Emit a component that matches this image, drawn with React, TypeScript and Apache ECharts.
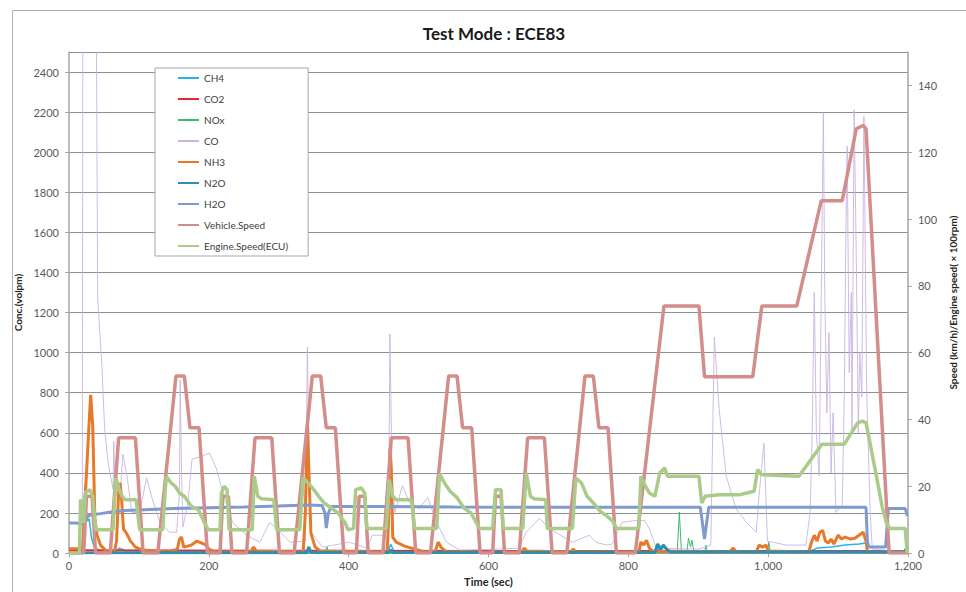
import React, { useEffect, useRef } from "react";
import * as echarts from "echarts";

// ---- Data: [time (sec), value] ----
const ch4: number[][] = [[0,8],[18,8],[21,150],[23,340],[25,200],[27,160],[29,170],[32,80],[36,30],[45,10],[68,10],[72,25],[76,20],[80,10],[340,8],[343,30],[346,10],[457,10],[460,45],[464,15],[470,8],[840,8],[845,25],[850,10],[1060,10],[1070,25],[1090,30],[1110,40],[1130,45],[1140,50],[1142,8],[1200,8]];
const co2: number[][] = [[0,14],[20,15],[300,13],[700,12],[1200,12]];
const nox: number[][] = [[0,1],[365,1],[369,30],[372,2],[870,2],[873,205],[876,5],[884,10],[886,74],[889,30],[891,64],[894,5],[909,5],[911,40],[913,5],[999,5],[1001,54],[1003,5],[1200,2]];
const co: number[][] = [[0,0],[19,0],[20,3500],[38,3500],[41,1274],[47,943],[51,617],[56,450],[63,320],[64,558],[66,300],[69,286],[73,286],[77,494],[83,385],[90,203],[101,203],[111,375],[119,272],[130,153],[144,104],[154,104],[158,300],[159,864],[161,400],[163,130],[170,250],[176,469],[187,480],[201,499],[211,420],[220,301],[234,153],[254,89],[273,54],[287,153],[297,123],[316,54],[338,60],[341,1027],[344,300],[347,100],[363,30],[401,54],[426,25],[434,89],[449,89],[457,120],[459,1093],[462,400],[466,203],[477,336],[487,253],[501,222],[513,277],[526,153],[540,54],[559,15],[616,20],[644,25],[654,104],[673,173],[687,123],[720,54],[744,89],[754,54],[769,40],[777,45],[791,153],[811,163],[823,163],[830,123],[840,25],[901,20],[918,40],[923,1077],[930,716],[940,385],[954,222],[969,153],[983,104],[987,286],[994,548],[999,60],[1026,40],[1054,40],[1060,200],[1063,598],[1066,1300],[1069,600],[1073,385],[1079,2197],[1081,1300],[1084,700],[1087,1100],[1090,400],[1093,700],[1097,203],[1106,237],[1109,800],[1111,1536],[1113,2030],[1116,900],[1119,1300],[1120,600],[1123,2212],[1126,1500],[1129,600],[1131,1000],[1134,780],[1137,2178],[1141,800],[1146,200],[1149,20],[1200,5]];
const nh3: number[][] = [[0,22],[17,22],[20,40],[24,330],[28,600],[31,790],[34,630],[37,170],[40,90],[45,40],[55,5],[65,5],[68,60],[71,300],[73,350],[75,280],[78,120],[82,100],[88,60],[95,30],[105,15],[140,5],[155,20],[158,70],[161,80],[164,30],[175,40],[183,60],[190,50],[196,40],[200,20],[210,5],[260,5],[264,30],[268,10],[335,5],[338,200],[341,650],[343,420],[346,100],[352,30],[360,10],[455,5],[457,150],[459,520],[461,420],[463,80],[468,55],[480,35],[495,20],[510,5],[524,10],[528,55],[532,30],[540,5],[648,5],[651,25],[655,10],[718,5],[721,20],[725,5],[815,5],[818,55],[822,40],[826,64],[830,25],[835,10],[945,5],[950,25],[954,8],[983,5],[987,40],[992,30],[997,40],[1000,10],[1058,5],[1062,54],[1066,89],[1070,60],[1074,104],[1078,113],[1082,60],[1086,50],[1090,70],[1094,45],[1100,90],[1105,70],[1110,80],[1118,70],[1124,74],[1130,89],[1136,104],[1140,60],[1142,5],[1200,5]];
const n2o: number[][] = [[0,2],[340,2],[343,30],[346,3],[457,3],[460,15],[463,3],[838,3],[842,45],[846,20],[850,40],[856,15],[862,5],[1195,5],[1198,25],[1200,20]];
const h2o: number[][] = [[0,150],[10,150],[19,145],[22,170],[30,190],[45,197],[60,205],[80,212],[100,215],[150,222],[200,226],[250,230],[300,235],[340,240],[362,238],[366,200],[368,125],[371,200],[375,232],[450,233],[550,230],[650,229],[750,229],[850,229],[903,229],[906,150],[909,70],[912,150],[915,229],[1000,229],[1100,229],[1140,229],[1142,60],[1144,30],[1168,30],[1172,222],[1196,222],[1199,190],[1200,188]];
const vehicleSpeed: number[][] = [[0,0],[21,0],[25,17],[33,17],[38,0],[59,0],[71,34.5],[95,34.5],[106,0],[127,0],[153,53],[165,53],[173,37.5],[186,37.5],[198,0],[216,0],[220,17],[228,17],[233,0],[254,0],[266,34.5],[290,34.5],[301,0],[322,0],[348,53],[360,53],[368,37.5],[381,37.5],[393,0],[411,0],[415,17],[423,17],[428,0],[449,0],[461,34.5],[485,34.5],[496,0],[517,0],[543,53],[555,53],[563,37.5],[576,37.5],[588,0],[606,0],[610,17],[618,17],[623,0],[644,0],[656,34.5],[680,34.5],[691,0],[712,0],[738,53],[750,53],[758,37.5],[771,37.5],[783,0],[810,0],[851,74],[901,74],[909,52.8],[978,52.8],[991,74],[1041,74],[1076,105.5],[1106,105.5],[1126,127],[1136,128],[1140,127],[1173,0],[1200,0]];
const engineSpeed: number[][] = [[0,0],[15,0],[16.5,16],[19,15],[21,9],[23,18],[30,19],[34,17],[38,7],[63,7],[67,22.5],[72,19],[76,17],[80,16],[96,16],[101,7],[134,7],[139,23],[146,21],[152,20],[158,18],[165,17],[175,14],[185,13],[194,9],[199,7],[216,7],[218,18],[222,20],[226,19],[229,7],[262,7],[265,23],[270,17],[275,16.3],[293,16],[297,7],[330,7],[335,22.5],[342,21],[350,19],[357,17],[365,15],[375,13.5],[385,12],[395,9],[399,7],[407,7.4],[410,19],[418,19.5],[423,18],[426,7.4],[454,7.4],[458,22],[463,17],[468,16],[490,16],[494,7.4],[526,7.4],[530,23.7],[537,21],[545,18.5],[555,16.6],[565,13.5],[575,12],[583,9],[587,7.4],[606,7.4],[610,19],[618,19],[621,7.4],[649,7.4],[654,24],[660,17],[665,16.3],[682,16],[684,7.4],[720,7.4],[725,22.5],[733,21],[741,17],[750,15],[760,12.5],[770,11],[778,9.5],[783,7.4],[815,7.4],[818,23],[822,21],[830,18],[838,17],[845,24],[852,25.5],[856,23],[901,23],[905,15],[910,17],[930,17.5],[960,17.5],[980,18.5],[985,25],[990,23.5],[1044,23],[1077,32.6],[1109,32.6],[1128,39],[1135,39.5],[1140,39],[1154,24],[1163,14],[1169,9.2],[1174,7.4],[1196,7.4],[1199,0],[1200,0]];

const seriesNames = ["CH4","CO2","NOx","CO","NH3","N2O","H2O","Vehicle.Speed","Engine.Speed(ECU)"];
const FONT = "Lato, 'Open Sans', sans-serif";

export default function App() {
  const ref = useRef<HTMLDivElement>(null);
  useEffect(() => {
    if (!ref.current) return;
    const chart = echarts.init(ref.current, undefined, { renderer: "svg" });
    const line = (name: string, data: number[][], color: string, width: number, yAxisIndex = 0) => ({
      name, type: "line", data, yAxisIndex, symbol: "none", showSymbol: false,
      lineStyle: { color, width }, itemStyle: { color }, clip: true,
    });
    chart.setOption({
      animation: false,
      backgroundColor: "#ffffff",
      textStyle: { fontFamily: FONT },
      title: {
        text: "Test Mode : ECE83", left: 489, top: 20, textAlign: "center",
        textStyle: { fontFamily: FONT, fontSize: 17, fontWeight: "bold", color: "#1a1a1a" },
      },
      graphic: [{
        type: "rect", left: 10, top: 8, shape: { width: 1000, height: 700 },
        style: { fill: "none", stroke: "#b0b0b0", lineWidth: 1 }, silent: true, z: -10,
      }],
      legend: {
        orient: "vertical", left: 155, top: 68,
        data: seriesNames,
        itemWidth: 21, itemHeight: 10, itemGap: 11,
        padding: [5, 20, 5, 22],
        backgroundColor: "#ffffff", borderColor: "#a6a6a6", borderWidth: 1,
        itemStyle: { color: "rgba(0,0,0,0)", borderWidth: 0, opacity: 0 },
        textStyle: { fontFamily: FONT, fontSize: 10, color: "#404040" },
      },
      grid: { left: 69, right: 57, top: 52, bottom: 34 },
      xAxis: {
        type: "value", min: 0, max: 1200, interval: 200,
        name: "Time (sec)", nameLocation: "middle", nameGap: 20,
        nameTextStyle: { fontFamily: FONT, fontSize: 11, fontWeight: "bold", color: "#262626" },
        axisLine: { lineStyle: { color: "#a6a6a6", width: 1.5 } },
        axisTick: { show: true, length: 4, lineStyle: { color: "#a6a6a6" } },
        axisLabel: { margin: 7, fontSize: 11, color: "#595959", fontFamily: FONT,
          formatter: (v: number) => v.toLocaleString("en-US") },
        splitLine: { show: false },
      },
      yAxis: [{
        type: "value", min: 0, max: 2500, interval: 200,
        name: "Conc.(volpm)", nameLocation: "middle", nameGap: 31, nameRotate: 90,
        nameTextStyle: { fontFamily: FONT, fontSize: 10, fontWeight: "bold", color: "#262626" },
        axisLine: { show: true, lineStyle: { color: "#a6a6a6", width: 1.5 } },
        axisTick: { show: true, length: 4, lineStyle: { color: "#a6a6a6" } },
        axisLabel: { margin: 10, fontSize: 11, color: "#595959", fontFamily: FONT, showMaxLabel: false,
          formatter: (v: number) => (v > 2400 ? "" : String(v)) },
        splitLine: { show: true, lineStyle: { color: "#8f8f8f", width: 1 } },
      }, {
        type: "value", min: 0, max: 150, interval: 20, position: "right",
        name: "Speed (km/h)/Engine speed( × 100rpm)", nameLocation: "middle", nameGap: 34, nameRotate: 90,
        nameTextStyle: { fontFamily: FONT, fontSize: 10, fontWeight: "bold", color: "#262626" },
        axisLine: { show: true, lineStyle: { color: "#a6a6a6", width: 1.5 } },
        axisTick: { show: true, length: 4, lineStyle: { color: "#a6a6a6" } },
        axisLabel: { margin: 10, fontSize: 11, color: "#595959", fontFamily: FONT, showMaxLabel: false,
          formatter: (v: number) => (v > 140 ? "" : String(v)) },
        splitLine: { show: false },
      }],
      series: [
        line("CH4", ch4, "#2bb3e8", 1.5),
        line("CO2", co2, "#e8282a", 1.5),
        line("NOx", nox, "#3cb86a", 1),
        line("CO", co, "#c9b4e2", 0.9),
        line("NH3", nh3, "#e8792a", 3),
        line("N2O", n2o, "#2a8fb3", 3),
        line("H2O", h2o, "#7e9ad0", 3),
        line("Vehicle.Speed", vehicleSpeed, "#d38d8b", 3.5, 1),
        line("Engine.Speed(ECU)", engineSpeed, "#aacb8a", 3.5, 1),
      ],
    });
    return () => chart.dispose();
  }, []);
  return <div ref={ref} style={{ position: "fixed", left: 0, top: 0, width: 966, height: 592 }} />;
}
